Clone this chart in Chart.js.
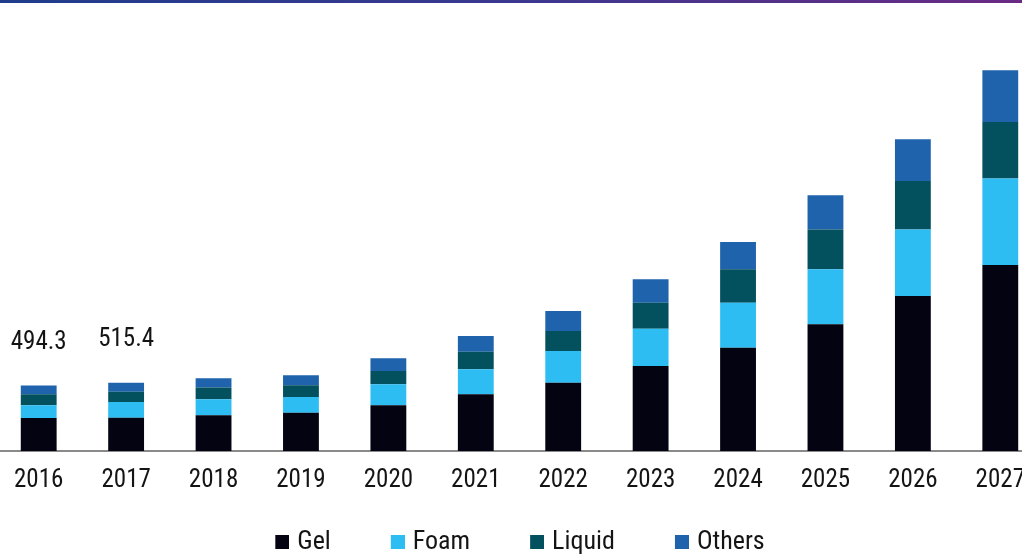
<!DOCTYPE html>
<html>
<head>
<meta charset="utf-8">
<script src="https://cdn.jsdelivr.net/npm/chart.js@4/dist/chart.umd.min.js"></script>
<style>
  html, body { margin: 0; padding: 0; background: #fff; overflow: hidden; width: 1022px; height: 555px; }
  #topbar { position: absolute; left: 0; top: 0; width: 1022px; height: 3px;
            background: linear-gradient(90deg, #1f3c8c, #3b3890, #6a2a84); }
  #wrap { position: absolute; left: -5px; top: 0; width: 1049px; height: 565px; }
</style>
</head>
<body>
<div id="topbar"></div>
<div id="wrap"><canvas id="myChart"></canvas></div>
<script>
// Daten
const years = ['2016', '2017', '2018', '2019', '2020', '2021', '2022', '2023', '2024', '2025', '2026', '2027'];
const gel = [250, 252, 270, 289, 345, 428, 516, 642, 780, 957, 1170, 1404];
const foam = [96, 119, 121, 119, 159, 189, 239, 282, 340, 415, 504, 655];
const liquid = [83, 76, 88, 88, 100, 133, 151, 196, 252, 302, 365, 427];
const others = [65.3, 68.4, 71, 76, 96, 118, 151, 177, 206, 257, 315, 390];
const totalLabels = ['494.3', '515.4', null, null, null, null, null, null, null, null, null, null];

const colors = ['#030312', '#2ebdf3', '#03505f', '#1f63ad'];
const fontFamily = "'Roboto Condensed', 'Liberation Sans', Arial, sans-serif";
const textColor = '#141414';

// Legendenquadrat mit Leerraum davor (mehr Abstand zwischen den Eintraegen)
const swatchW = 44;
function makeSwatch(color) {
    const c = document.createElement('canvas');
    c.width = swatchW;
    c.height = 14;
    const g = c.getContext('2d');
    g.fillStyle = color;
    g.fillRect(swatchW - 14, 0, 14, 14);
    return c;
}
const swatches = colors.map(makeSwatch);

// Summen ueber den Balken (nur 2016 und 2017)
const totalsPlugin = {
    id: 'totals',
    afterLayout(chart) {
        // Legende etwas nach links, wie im Original
        chart.legend.left -= 12;
        chart.legend.right -= 12;
    },
    afterDatasetsDraw(chart) {
        const ctx = chart.ctx;
        const meta = chart.getDatasetMeta(chart.data.datasets.length - 1);
        ctx.save();
        ctx.font = '25px ' + fontFamily;
        ctx.fillStyle = textColor;
        ctx.textAlign = 'center';
        ctx.textBaseline = 'middle';
        totalLabels.forEach((txt, i) => {
            if (!txt) return;
            const bar = meta.data[i];
            ctx.fillText(txt, bar.x, bar.y - 43);
        });
        ctx.restore();
    }
};

const ctx = document.getElementById('myChart').getContext('2d');

new Chart(ctx, {
    type: 'bar',
    data: {
        labels: years,
        datasets: [
            { label: 'Gel', data: gel, backgroundColor: colors[0] },
            { label: 'Foam', data: foam, backgroundColor: colors[1] },
            { label: 'Liquid', data: liquid, backgroundColor: colors[2] },
            { label: 'Others', data: others, backgroundColor: colors[3] }
        ]
    },
    options: {
        responsive: true,
        maintainAspectRatio: false,
        animation: false,
        layout: { padding: { top: 30, left: 0, right: 0, bottom: 0 } },
        datasets: {
            bar: { barPercentage: 0.41, categoryPercentage: 1, borderWidth: 0 }
        },
        scales: {
            x: {
                stacked: true,
                // unsichtbare Ticks nur als Abstand zur Achse
                grid: { display: true, drawOnChartArea: false, drawTicks: true, tickLength: 17, color: 'rgba(0,0,0,0)' },
                border: { display: true, color: '#8a8a8a', width: 2 },
                ticks: {
                    color: textColor,
                    padding: 0,
                    maxRotation: 0,
                    autoSkip: false,
                    font: { family: fontFamily, size: 25, lineHeight: 1.04 }
                }
            },
            y: {
                stacked: true,
                display: false,
                min: 0,
                max: 3180
            }
        },
        plugins: {
            legend: {
                position: 'bottom',
                labels: {
                    color: textColor,
                    usePointStyle: true,
                    pointStyleWidth: swatchW - 10,
                    boxHeight: 14,
                    padding: 35,
                    font: { family: fontFamily, size: 26 },
                    generateLabels(chart) {
                        const items = Chart.defaults.plugins.legend.labels.generateLabels(chart);
                        items.forEach(it => { it.pointStyle = swatches[it.datasetIndex]; });
                        return items;
                    }
                }
            },
            tooltip: { enabled: false }
        }
    },
    plugins: [totalsPlugin]
});
</script>
</body>
</html>
